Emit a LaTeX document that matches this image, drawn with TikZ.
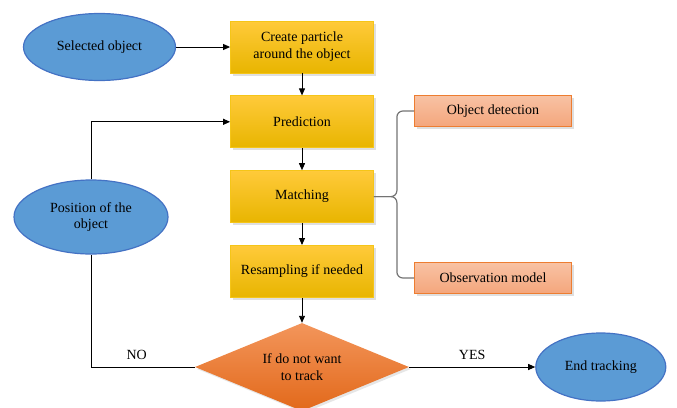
\documentclass[tikz,border=0pt]{standalone}
\usepackage{fontspec}
\setmainfont{Liberation Serif}
\newfontfamily\tkfont{Liberation Serif}
\usetikzlibrary{arrows.meta,positioning,calc,shapes.geometric,shadows}
\definecolor{ovalfill}{HTML}{5B9BD5}
\definecolor{ovaledge}{HTML}{4472C4}
\definecolor{goldtop}{HTML}{FFCA3A}
\definecolor{goldmid}{HTML}{FFC000}
\definecolor{goldbot}{HTML}{E8B500}
\definecolor{goldedge}{HTML}{F5C518}
\definecolor{salmontop}{HTML}{F8C2A4}
\definecolor{salmonbot}{HTML}{F4A67C}
\definecolor{salmonedge}{HTML}{ED7D31}
\definecolor{orangetop}{HTML}{F3955B}
\definecolor{orangebot}{HTML}{E2691A}
\tikzset{
  tkoval/.style={ellipse, draw=ovaledge, line width=1.2pt, fill=ovalfill, align=center, inner sep=0pt, font=\tkfont\fontsize{14}{16}\selectfont},
  tkstep/.style={draw=goldedge, line width=0.8pt, top color=goldtop, middle color=goldmid, bottom color=goldbot, align=center, minimum width=143pt, minimum height=52pt, font=\tkfont\fontsize{14}{17}\selectfont, drop shadow={opacity=0.25, shadow xshift=2.5pt, shadow yshift=-2.5pt}},
  tkside/.style={draw=salmonedge, line width=0.8pt, top color=salmontop, bottom color=salmonbot, align=center, minimum width=157pt, minimum height=31pt, font=\tkfont\fontsize{14}{16}\selectfont, drop shadow={opacity=0.25, shadow xshift=2.5pt, shadow yshift=-2.5pt}},
  tkdecide/.style={diamond, top color=orangetop, bottom color=orangebot, align=center, inner sep=0pt, minimum width=214pt, minimum height=88pt, aspect=2.43, font=\tkfont\fontsize{14}{17}\selectfont, drop shadow={opacity=0.2, shadow xshift=2pt, shadow yshift=-2pt}},
  tkarrow/.style={-{Triangle[length=7pt, width=6pt]}, line width=0.9pt},
  tkline/.style={line width=0.9pt},
  tkbrace/.style={draw=black!55, line width=1.2pt, rounded corners=6pt},
  tklabel/.style={font=\tkfont\fontsize{14}{16}\selectfont, inner sep=1pt}
}

\begin{document}
\begin{tikzpicture}[x=1pt, y=-1pt, node distance=22pt and 54pt]
\useasboundingbox (0,0) rectangle (677,407);
% main column
\node[tkstep] (create) at (302,47) {Create particle\\around the object};
\node[tkstep, below=of create] (predict) {Prediction};
\node[tkstep, below=of predict] (match) {Matching};
\node[tkstep, below=of match] (resample) {Resampling if needed};
\node[tkdecide, below=25pt of resample] (decide) {If do not want\\to track};
% ovals
\node[tkoval, left=of create, minimum width=152pt, minimum height=67pt] (select) {Selected object};
\node[tkoval, minimum width=154pt, minimum height=74pt] (locate) at (91,217) {Position of the\\object};
\node[tkoval, right=126pt of decide, minimum width=130pt, minimum height=68pt] (finish) {End tracking};
% side boxes
\node[tkside] (detect) at (493,111) {Object detection};
\node[tkside] (observ) at (493,278) {Observation model};

\draw[tkarrow] (select) -- (create);
\draw[tkarrow] (create) -- (predict);
\draw[tkarrow] (predict) -- (match);
\draw[tkarrow] (match) -- (resample);
\draw[tkarrow] (resample) -- (decide);
\draw[tkarrow] (decide) -- node[tklabel, above=6pt] {YES} (finish);
\draw[tkline] (decide.west) -| node[tklabel, above=6pt, pos=0.28] {NO} (locate.south);
\draw[tkarrow] (locate.north) |- (predict.west);

% brace to the side boxes
\coordinate (bx) at ($(match.east)+(23,0)$);
\draw[tkbrace] (detect.west) -- (bx |- detect.west) -- (bx) -- (match.east);
\draw[tkbrace] (observ.west) -- (bx |- observ.west) -- (bx) -- (match.east);
\end{tikzpicture}
\end{document}
